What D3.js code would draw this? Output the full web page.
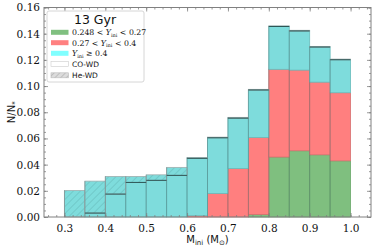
<!DOCTYPE html>
<html>
<head>
<meta charset="utf-8">
<script src="https://cdn.jsdelivr.net/npm/d3@7"></script>
<style>
  body { margin: 0; background: #fff; }
  svg { display: block; }
</style>
</head>
<body>
<div id="chart"></div>
<script>
// bin left edges (M_ini), width 0.05
var binStarts = [0.30, 0.35, 0.40, 0.45, 0.50, 0.55, 0.60, 0.65, 0.70, 0.75, 0.80, 0.85, 0.90, 0.95];
var binWidth = 0.05;
// CO-WD counts per helium group (stacked bottom to top)
var greenVals = [0, 0, 0, 0, 0, 0, 0, 0, 0, 0.002, 0.0458, 0.0506, 0.0475, 0.0429];
var redVals = [0, 0, 0, 0, 0, 0, 0.001, 0.018, 0.037, 0.0588, 0.067, 0.0616, 0.0555, 0.052];
var cyanVals = [0, 0.003, 0.0175, 0.0264, 0.028, 0.0318, 0.0438, 0.0425, 0.0385, 0.0362, 0.0327, 0.0299, 0.0268, 0.0252];
// He-WD on top (hatched)
var heVals = [0.0203, 0.0244, 0.0135, 0.0046, 0.0042, 0.0061, 0.0007, 0.0005, 0.0006, 0.0005, 0.0005, 0.0005, 0.0005, 0.0005];

var xTicks = [0.3, 0.4, 0.5, 0.6, 0.7, 0.8, 0.9, 1.0];
var yTicks = [0, 0.02, 0.04, 0.06, 0.08, 0.10, 0.12, 0.14, 0.16];

var svgWidth = 374;
var svgHeight = 248;
var margin = { top: 7.5, right: 3, bottom: 31, left: 44 };
var width = svgWidth - margin.left - margin.right;
var height = svgHeight - margin.top - margin.bottom;

var svg = d3.select("#chart").append("svg")
  .attr("width", svgWidth)
  .attr("height", svgHeight);

var defs = svg.append("defs");
var hatch = defs.append("pattern")
  .attr("id", "hatch")
  .attr("patternUnits", "userSpaceOnUse")
  .attr("width", 5)
  .attr("height", 5)
  .attr("patternTransform", "rotate(45)");
hatch.append("rect").attr("width", 5).attr("height", 5).attr("fill", "#7edcdc");
hatch.append("line")
  .attr("x1", 0).attr("y1", 0).attr("x2", 0).attr("y2", 5)
  .attr("stroke", "#68bcbc").attr("stroke-width", 1.2);

var hatchGray = defs.append("pattern")
  .attr("id", "hatchGray")
  .attr("patternUnits", "userSpaceOnUse")
  .attr("width", 4)
  .attr("height", 4)
  .attr("patternTransform", "rotate(45)");
hatchGray.append("rect").attr("width", 4).attr("height", 4).attr("fill", "#dcdcdc");
hatchGray.append("line")
  .attr("x1", 0).attr("y1", 0).attr("x2", 0).attr("y2", 4)
  .attr("stroke", "#aaa").attr("stroke-width", 1.2);

var chartGroup = svg.append("g")
  .attr("transform", `translate(${margin.left}, ${margin.top})`);

var xScale = d3.scaleLinear().domain([0.25, 1.05]).range([0, width]);
var yScale = d3.scaleLinear().domain([0, 0.16]).range([height, 0]);

// build stacked table
var table = binStarts.map(function(b, i) {
  return { bin: b, green: greenVals[i], red: redVals[i], cyan: cyanVals[i], he: heVals[i] };
});
var stack = d3.stack().keys(["green", "red", "cyan", "he"]);
var layers = stack(table);

var fills = { green: "#7fbf7f", red: "#ff7f7f", cyan: "#7edcdc", he: "url(#hatch)" };
var strokes = { green: "#6aa86a", red: "#d87070", cyan: "#68bcbc", he: "#a0b0b0" };

layers.forEach(function(layer) {
  chartGroup.selectAll(".bar-" + layer.key)
    .data(layer.filter(d => d[1] - d[0] > 0))
    .enter()
    .append("rect")
    .attr("class", "bar-" + layer.key)
    .attr("x", d => xScale(d.data.bin))
    .attr("width", d => xScale(d.data.bin + binWidth) - xScale(d.data.bin))
    .attr("y", d => yScale(d[1]))
    .attr("height", d => yScale(d[0]) - yScale(d[1]))
    .attr("fill", fills[layer.key])
    .attr("stroke", strokes[layer.key])
    .attr("stroke-width", 0.8);
});

// CO-WD outline (top of the CO part)
chartGroup.selectAll(".co-line")
  .data(table.filter(d => d.green + d.red + d.cyan > 0))
  .enter()
  .append("line")
  .attr("class", "co-line")
  .attr("x1", d => xScale(d.bin))
  .attr("x2", d => xScale(d.bin + binWidth))
  .attr("y1", d => yScale(d.green + d.red + d.cyan))
  .attr("y2", d => yScale(d.green + d.red + d.cyan))
  .attr("stroke", "#2c5656")
  .attr("stroke-width", 1);

// vertical separators of bins
chartGroup.selectAll(".sep")
  .data(table)
  .enter()
  .append("line")
  .attr("class", "sep")
  .attr("x1", d => xScale(d.bin))
  .attr("x2", d => xScale(d.bin))
  .attr("y1", yScale(0))
  .attr("y2", d => yScale(d.green + d.red + d.cyan + d.he))
  .attr("stroke", "#4a6a6a")
  .attr("stroke-opacity", 0.45)
  .attr("stroke-width", 0.8);

// axes with inward ticks, mirrored
var axisColor = "#808080";
function styleAxis(g) {
  g.select(".domain").remove();
  g.selectAll(".tick line").attr("stroke", axisColor).attr("stroke-width", 0.8);
  g.selectAll(".tick text")
    .attr("font-family", "DejaVu Serif, serif")
    .attr("font-size", "10.5px")
    .attr("fill", "#111");
}

var minorX = d3.range(0.26, 1.05, 0.02);
var minorY = d3.range(0, 0.1601, 0.005);

chartGroup.append("g")
  .attr("transform", `translate(0, ${height})`)
  .call(d3.axisBottom(xScale).tickValues(minorX).tickSize(-2).tickFormat(""))
  .call(styleAxis);
chartGroup.append("g")
  .attr("transform", `translate(0, ${height})`)
  .call(d3.axisBottom(xScale).tickValues(xTicks).tickSize(-4).tickPadding(8).tickFormat(d3.format(".1f")))
  .call(styleAxis);
chartGroup.append("g")
  .call(d3.axisTop(xScale).tickValues(minorX).tickSize(-2).tickFormat(""))
  .call(styleAxis);
chartGroup.append("g")
  .call(d3.axisTop(xScale).tickValues(xTicks).tickSize(-4).tickFormat(""))
  .call(styleAxis);

chartGroup.append("g")
  .call(d3.axisLeft(yScale).tickValues(minorY).tickSize(-2).tickFormat(""))
  .call(styleAxis);
chartGroup.append("g")
  .call(d3.axisLeft(yScale).tickValues(yTicks).tickSize(-4).tickPadding(4).tickFormat(d3.format(".2f")))
  .call(styleAxis);
chartGroup.append("g")
  .attr("transform", `translate(${width}, 0)`)
  .call(d3.axisRight(yScale).tickValues(minorY).tickSize(-2).tickFormat(""))
  .call(styleAxis);
chartGroup.append("g")
  .attr("transform", `translate(${width}, 0)`)
  .call(d3.axisRight(yScale).tickValues(yTicks).tickSize(-4).tickFormat(""))
  .call(styleAxis);

// frame
chartGroup.append("rect")
  .attr("width", width)
  .attr("height", height)
  .attr("fill", "none")
  .attr("stroke", axisColor)
  .attr("stroke-width", 1);

// axis labels
var xLabel = svg.append("text")
  .attr("x", margin.left + width / 2)
  .attr("y", 243)
  .attr("text-anchor", "middle")
  .attr("font-family", "DejaVu Sans, sans-serif")
  .attr("font-size", "10px")
  .attr("fill", "#111");
xLabel.append("tspan").text("M");
xLabel.append("tspan").attr("font-size", "7px").attr("dy", 2).text("ini");
xLabel.append("tspan").attr("dy", -2).text(" (M");
xLabel.append("tspan").attr("font-size", "7px").attr("dy", 2).text("\u2299");
xLabel.append("tspan").attr("dy", -2).text(")");

var yLabel = svg.append("text")
  .attr("transform", `translate(15, ${margin.top + height / 2}) rotate(-90)`)
  .attr("text-anchor", "middle")
  .attr("font-family", "DejaVu Sans, sans-serif")
  .attr("font-size", "10px")
  .attr("fill", "#111");
yLabel.append("tspan").text("N/N");
yLabel.append("tspan").attr("font-size", "7px").attr("dy", 2).text("*");

// legend
var legend = svg.append("g").attr("transform", "translate(47, 11)");
legend.append("rect")
  .attr("width", 97)
  .attr("height", 71)
  .attr("rx", 2)
  .attr("fill", "#fff")
  .attr("fill-opacity", 0.85)
  .attr("stroke", "#cccccc")
  .attr("stroke-width", 0.8);
legend.append("text")
  .attr("x", 48)
  .attr("y", 13)
  .attr("text-anchor", "middle")
  .attr("font-family", "DejaVu Sans, sans-serif")
  .attr("font-size", "12.5px")
  .attr("fill", "#111")
  .text("13 Gyr");

var legendItems = [
  { fill: "#80c080", stroke: "none", kind: "math", pre: "0.248 < ", post: " < 0.27" },
  { fill: "#ff8080", stroke: "none", kind: "math", pre: "0.27 < ", post: " < 0.4" },
  { fill: "#80ffff", stroke: "none", kind: "math", pre: "", post: " \u2265 0.4" },
  { fill: "#fff", stroke: "#ccc", kind: "text", label: "CO-WD" },
  { fill: "url(#hatchGray)", stroke: "#bbb", kind: "text", label: "He-WD" }
];
var rowY = [21.3, 31.7, 42.3, 53, 64.3];

legendItems.forEach(function(item, i) {
  var row = legend.append("g").attr("transform", `translate(4, ${rowY[i]})`);
  row.append("rect")
    .attr("y", -2.5)
    .attr("width", 17.5)
    .attr("height", 5)
    .attr("fill", item.fill)
    .attr("stroke", item.stroke)
    .attr("stroke-width", 0.6);
  var t = row.append("text")
    .attr("x", 21)
    .attr("y", 2.8)
    .attr("fill", "#111");
  if (item.kind === "math") {
    t.attr("font-family", "DejaVu Serif, serif").attr("font-size", "7.8px");
    t.append("tspan").text(item.pre);
    t.append("tspan").attr("font-style", "italic").text("Y");
    t.append("tspan").attr("font-size", "5px").attr("dy", 1.5).text("ini");
    t.append("tspan").attr("dy", -1.5).text(item.post);
  } else {
    t.attr("font-family", "DejaVu Sans, sans-serif").attr("font-size", "7.5px").text(item.label);
  }
});
</script>
</body>
</html>
